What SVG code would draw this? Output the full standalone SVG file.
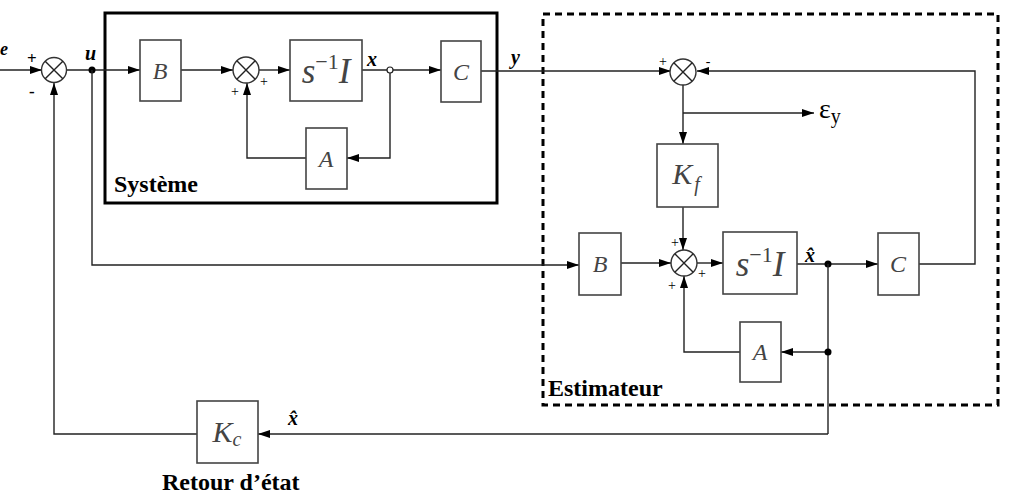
<svg xmlns="http://www.w3.org/2000/svg" width="1011" height="495" viewBox="0 0 1011 495">
<style>
.ln{fill:none;stroke:#222;stroke-width:1.4}
.bx{fill:#fff;stroke:#444;stroke-width:1.6}
.sum{fill:#fff;stroke:#333;stroke-width:1.4}
.lbl{font-family:"Liberation Serif",serif;font-style:italic;fill:#444;text-anchor:middle}
.bl{font-family:"Liberation Serif",serif;font-weight:bold;fill:#000}
.sg{font-family:"Liberation Serif",serif;fill:#000;font-size:14px;text-anchor:middle}
</style>
<defs>
<marker id="ar" markerUnits="userSpaceOnUse" markerWidth="12" markerHeight="8" refX="12" refY="4" orient="auto">
<path d="M0,0 L12,4 L0,8 z" fill="#000"/>
</marker>
</defs>

<!-- frames -->
<rect x="105" y="13" width="392" height="190" fill="none" stroke="#000" stroke-width="3"/>
<rect x="543" y="14" width="455" height="391" fill="none" stroke="#000" stroke-width="3" stroke-dasharray="7,5"/>
<text class="bl" x="114" y="192" font-size="24">Système</text>
<text class="bl" x="548" y="396" font-size="24">Estimateur</text>
<text class="bl" x="162" y="490" font-size="24">Retour d’état</text>

<g id="connectors">
<line class="ln" x1="0" y1="70" x2="42" y2="70" marker-end="url(#ar)"/>
<line class="ln" x1="66" y1="70" x2="140" y2="70" marker-end="url(#ar)"/>
<circle cx="92" cy="70" r="3.5" fill="#000"/>
<line class="ln" x1="181" y1="70" x2="233" y2="70" marker-end="url(#ar)"/>
<line class="ln" x1="259" y1="70" x2="290" y2="70" marker-end="url(#ar)"/>
<line class="ln" x1="362" y1="70" x2="441" y2="70" marker-end="url(#ar)"/>
<circle cx="390" cy="70" r="3" fill="#fff" stroke="#222" stroke-width="1.2"/>
<polyline class="ln" points="390,73 390,158 347,158" marker-end="url(#ar)"/>
<polyline class="ln" points="306,158 247,158 247,83" marker-end="url(#ar)"/>
<line class="ln" x1="481" y1="71" x2="671" y2="71" marker-end="url(#ar)"/>
<polyline class="ln" points="919,264 975,264 975,71 697,71" marker-end="url(#ar)"/>
<line class="ln" x1="683" y1="84" x2="683" y2="144" marker-end="url(#ar)"/>
<line class="ln" x1="683" y1="113" x2="814" y2="113" marker-end="url(#ar)"/>
<line class="ln" x1="683" y1="207" x2="683" y2="250" marker-end="url(#ar)"/>
<polyline class="ln" points="92,70 92,265 579,265" marker-end="url(#ar)"/>
<line class="ln" x1="621" y1="263" x2="671" y2="263" marker-end="url(#ar)"/>
<line class="ln" x1="697" y1="263" x2="723" y2="263" marker-end="url(#ar)"/>
<line class="ln" x1="797" y1="264" x2="878" y2="264" marker-end="url(#ar)"/>
<circle cx="828" cy="264" r="3.5" fill="#000"/>
<line class="ln" x1="828" y1="264" x2="828" y2="434"/>
<line class="ln" x1="828" y1="352" x2="781" y2="352" marker-end="url(#ar)"/>
<circle cx="828" cy="352" r="3.5" fill="#000"/>
<polyline class="ln" points="740,352 684,352 684,276" marker-end="url(#ar)"/>
<line class="ln" x1="828" y1="434" x2="258" y2="434" marker-end="url(#ar)"/>
<polyline class="ln" points="197,434 54,434 54,83" marker-end="url(#ar)"/>
</g>

<g id="sum1"><circle class="sum" cx="54" cy="70" r="12.5"/><path class="ln" d="M45.2,61.2 L62.8,78.8 M62.8,61.2 L45.2,78.8"/>
<text class="bl" x="27" y="64" font-size="17">+</text><text class="bl" x="29" y="97" font-size="17">-</text></g>
<g id="sum2"><circle class="sum" cx="246" cy="70" r="13"/><path class="ln" d="M236.8,60.8 L255.2,79.2 M255.2,60.8 L236.8,79.2"/>
<text class="sg" x="235" y="96">+</text><text class="sg" x="264" y="86">+</text></g>
<g id="sum3"><circle class="sum" cx="683" cy="72" r="13"/><path class="ln" d="M673.8,62.8 L692.2,81.2 M692.2,62.8 L673.8,81.2"/>
<text class="sg" x="663" y="66">+</text><text class="sg" x="708" y="66">-</text></g>
<g id="sum4"><circle class="sum" cx="684" cy="263" r="13"/><path class="ln" d="M674.8,253.8 L693.2,272.2 M693.2,253.8 L674.8,272.2"/>
<text class="sg" x="675" y="247">+</text><text class="sg" x="702" y="278">+</text><text class="sg" x="672" y="290">+</text></g>

<g id="labels">
<text class="bl" x="0" y="55" font-size="18" font-style="italic">e</text>
<text class="bl" x="85" y="60" font-size="20" font-style="italic">u</text>
<text class="bl" x="367" y="66" font-size="20" font-style="italic">x</text>
<text class="bl" x="511" y="64" font-size="20" font-style="italic">y</text>
<text x="819" y="118" font-family="Liberation Serif,serif" font-size="28" fill="#000">ε<tspan font-size="20" dy="5">y</tspan></text>
<text class="bl" x="805" y="262" font-size="20" font-style="italic">x̂</text>
<text class="bl" x="288" y="425" font-size="20" font-style="italic">x̂</text>
</g>

<g id="B1"><rect class="bx" x="140" y="40" width="41" height="61"/><text class="lbl" x="160" y="79" font-size="24">B</text></g>
<g id="SI1"><rect class="bx" x="290" y="40" width="72" height="61"/><text class="lbl" x="326" y="83" font-size="35">s<tspan font-style="normal" font-size="22" dy="-14">−1</tspan><tspan dy="14">I</tspan></text></g>
<g id="C1"><rect class="bx" x="441" y="41" width="40" height="61"/><text class="lbl" x="461" y="80" font-size="24">C</text></g>
<g id="A1"><rect class="bx" x="306" y="128" width="41" height="61"/><text class="lbl" x="326" y="167" font-size="24">A</text></g>
<g id="Kf"><rect class="bx" x="657" y="144" width="61" height="63"/><text class="lbl" x="686" y="184" font-size="30">K<tspan font-size="20" dx="2" dy="7">f</tspan></text></g>
<g id="B2"><rect class="bx" x="579" y="233" width="42" height="62"/><text class="lbl" x="600" y="272" font-size="24">B</text></g>
<g id="SI2"><rect class="bx" x="723" y="232" width="74" height="62"/><text class="lbl" x="760" y="276" font-size="35">s<tspan font-style="normal" font-size="22" dy="-14">−1</tspan><tspan dy="14">I</tspan></text></g>
<g id="C2"><rect class="bx" x="878" y="233" width="41" height="62"/><text class="lbl" x="898" y="272" font-size="24">C</text></g>
<g id="A2"><rect class="bx" x="740" y="322" width="41" height="60"/><text class="lbl" x="760" y="360" font-size="24">A</text></g>
<g id="Kc"><rect class="bx" x="197" y="401" width="61" height="62"/><text class="lbl" x="227" y="442" font-size="30">K<tspan font-size="20" dy="4">c</tspan></text></g>
</svg>
